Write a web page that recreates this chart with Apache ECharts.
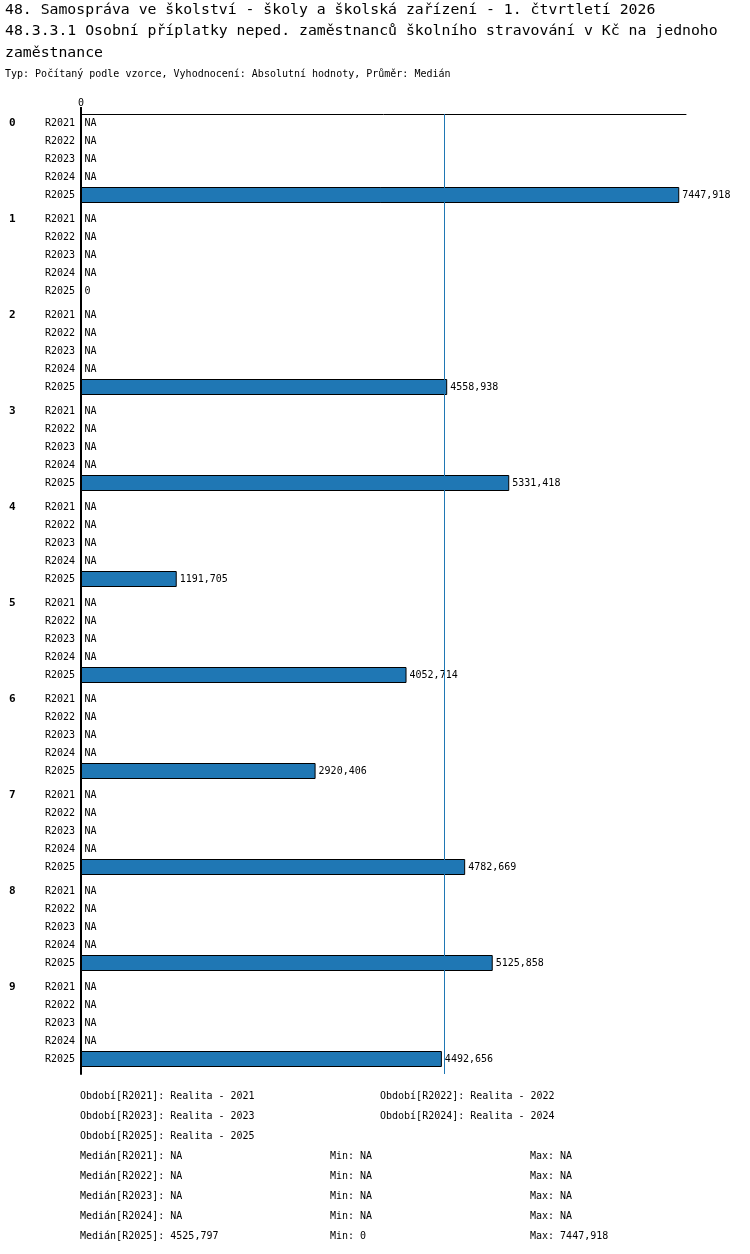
<!DOCTYPE html>
<html><head><meta charset="utf-8">
<script src="https://cdn.jsdelivr.net/npm/echarts@6/dist/echarts.min.js"></script>
<style>html,body{margin:0;padding:0;background:#fff}#c{width:750px;height:1254px}</style>
</head><body><div id="c"></div>
<script>
const groups = ['0','1','2','3','4','5','6','7','8','9'];
const periods = ['R2021','R2022','R2023','R2024','R2025'];
const periodNames = ['Realita - 2021','Realita - 2022','Realita - 2023','Realita - 2024','Realita - 2025'];
const valuesR2021 = [null,null,null,null,null,null,null,null,null,null];
const valuesR2022 = [null,null,null,null,null,null,null,null,null,null];
const valuesR2023 = [null,null,null,null,null,null,null,null,null,null];
const valuesR2024 = [null,null,null,null,null,null,null,null,null,null];
const valuesR2025 = [7447.918, 0, 4558.938, 5331.418, 1191.705, 4052.714, 2920.406, 4782.669, 5125.858, 4492.656];
const medians = [null,null,null,null,4525.797];
const mins = [null,null,null,null,0];
const maxs = [null,null,null,null,7447.918];
const titleLine1 = '48. Samospráva ve školství - školy a školská zařízení - 1. čtvrtletí 2026';
const titleLine2 = '48.3.3.1 Osobní příplatky neped. zaměstnanců školního stravování v Kč na jednoho';
const titleLine3 = 'zaměstnance';
const subTitle = 'Typ: Počítaný podle vzorce, Vyhodnocení: Absolutní hodnoty, Průměr: Medián';

const allValues = [valuesR2021, valuesR2022, valuesR2023, valuesR2024, valuesR2025];
const fmt = v => v == null ? 'NA' : String(v).replace('.', ',');

const SLOTS_PER_GROUP = 16;
const slotCats = [];
const slotData = [];
for (let g = 0; g < groups.length; g++) {
  for (let s = 0; s < SLOTS_PER_GROUP; s++) {
    const r = (s - 1) / 3;
    if (s % 3 === 1 && r < periods.length) {
      slotCats.push(r === 0 ? '{g|' + groups[g] + '}{r|' + periods[r] + '}' : '{r|' + periods[r] + '}');
      const v = allValues[r][g];
      slotData.push({ value: v == null ? 0 : v, na: v == null });
    } else {
      slotCats.push('');
      slotData.push('-');
    }
  }
}

const FONT = 'DejaVu Sans Mono';
const graphics = [];
function addText(x, y, t) {
  graphics.push({ type: 'text', x: x, y: y, style: { text: t, font: '10px "' + FONT + '"', fill: '#000', verticalAlign: 'middle' } });
}
const obY = [1096, 1096, 1116, 1116, 1136];
const obX = [80, 380, 80, 380, 80];
periods.forEach((p, i) => addText(obX[i], obY[i], 'Období[' + p + ']: ' + periodNames[i]));
periods.forEach((p, i) => {
  const y = 1156 + i * 20;
  addText(80, y, 'Medián[' + p + ']: ' + fmt(medians[i]));
  addText(330, y, 'Min: ' + fmt(mins[i]));
  addText(530, y, 'Max: ' + fmt(maxs[i]));
});

const chart = echarts.init(document.getElementById('c'));
chart.setOption({
  animation: false,
  backgroundColor: '#fff',
  title: [
    { text: titleLine1 + '\n' + titleLine2 + '\n' + titleLine3, left: 0, top: -6,
      textStyle: { fontFamily: FONT, fontSize: 14.8, fontWeight: 'normal', color: '#000', lineHeight: 21.5 } },
    { text: subTitle, left: 0, top: 63,
      textStyle: { fontFamily: FONT, fontSize: 10, fontWeight: 'normal', color: '#000', lineHeight: 12 } }
  ],
  grid: { left: 81, right: 64, top: 114, height: 960, containLabel: false },
  xAxis: {
    type: 'value', position: 'top', min: 0, max: 7532,
    axisLine: { show: true, lineStyle: { color: '#000', width: 1 } },
    axisTick: { show: true, length: 7, customValues: [0], lineStyle: { color: '#000', width: 2 } },
    axisLabel: { show: true, customValues: [0], margin: 6, fontFamily: FONT, fontSize: 10, color: '#000' },
    splitLine: { show: false }
  },
  yAxis: {
    type: 'category', inverse: true, data: slotCats,
    axisLine: { show: true, lineStyle: { color: '#000', width: 2 } },
    axisTick: { show: false },
    axisLabel: {
      interval: 0, margin: 6, color: '#000',
      rich: {
        g: { width: 35, align: 'left', fontFamily: FONT, fontSize: 11, fontWeight: 'bold', color: '#000' },
        r: { width: 31, align: 'right', fontFamily: FONT, fontSize: 10, color: '#000' }
      }
    }
  },
  series: [{
    type: 'bar', data: slotData, barWidth: 16,
    itemStyle: { color: '#1f77b4', borderColor: '#000', borderWidth: 1 },
    label: {
      show: true, position: 'right', distance: 3, fontFamily: FONT, fontSize: 10, color: '#000',
      formatter: p => p.data.na ? 'NA' : fmt(p.data.value)
    },
    markLine: {
      silent: true, symbol: ['none', 'none'], label: { show: false },
      itemStyle: { color: '#1f77b4' },
      lineStyle: { color: '#1f77b4', width: 1, type: 'solid', opacity: 1 },
      emphasis: { disabled: true },
      data: [{ xAxis: medians[4] }]
    }
  }],
  graphic: graphics
});
</script></body></html>
